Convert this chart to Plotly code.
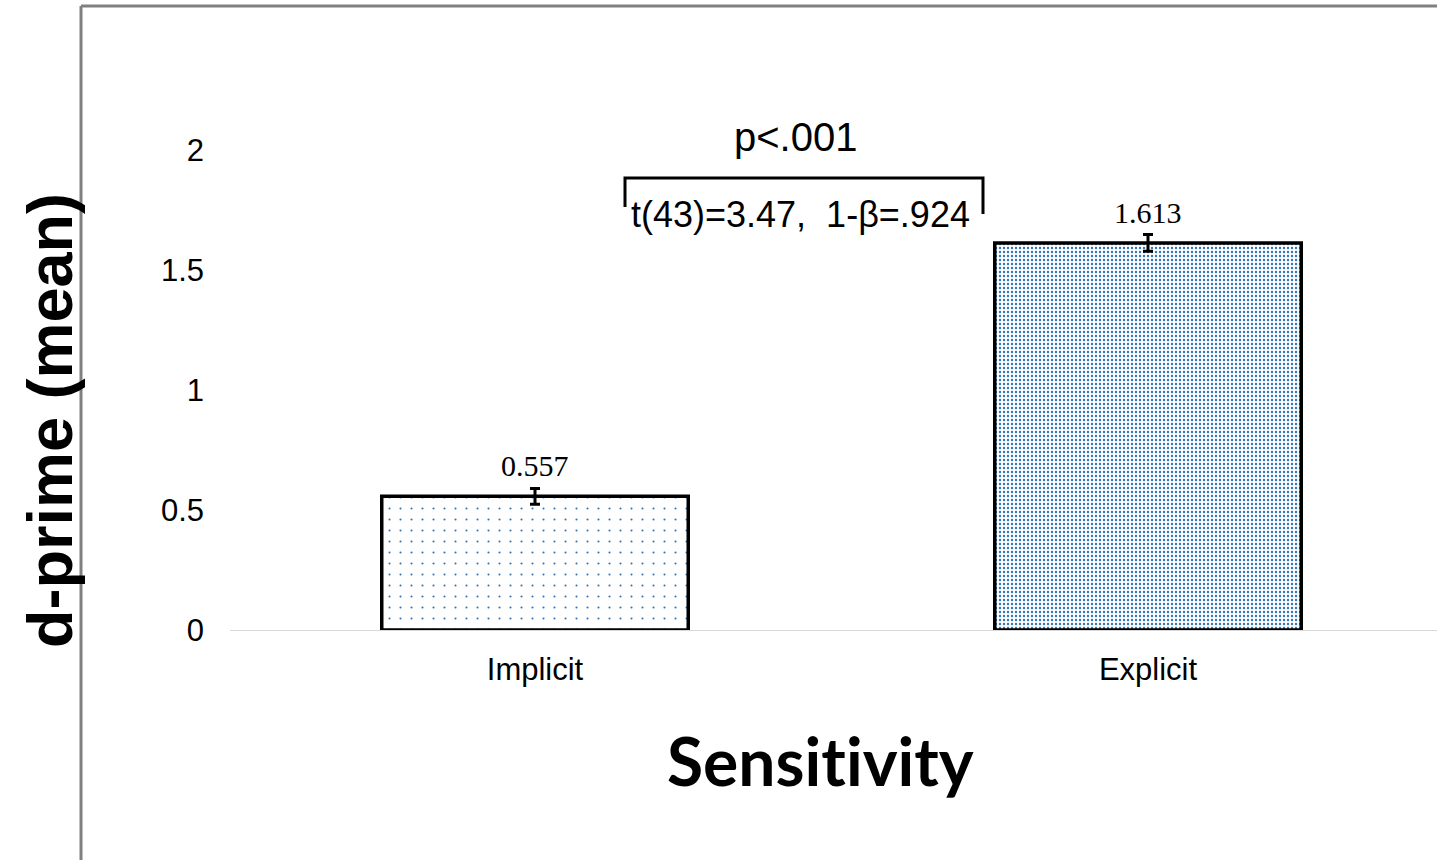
import plotly.graph_objects as go

# ---- data ----
categories = ["Implicit", "Explicit"]
means = [0.557, 1.613]
errors = [0.033, 0.035]
value_labels = ["0.557", "1.613"]
y_ticks = [0, 0.5, 1, 1.5, 2]
y_tick_labels = ["0", "0.5", "1", "1.5", "2"]
p_text = "p<.001"
stat_text = "t(43)=3.47,  1-β=.924"
x_title = "Sensit\u200civit\u200cy"
y_title = "d-prime (mean)"

W, H = 1437, 860
L, R, T, B = 230, 0, 30, 230
plot_w = W - L - R
plot_h = H - T - B

BLUE = "#2E75B6"

fig = go.Figure()
patterns = [
    dict(shape=".", size=11, solidity=0.03, fgcolor=BLUE, bgcolor="white", fillmode="replace"),
    dict(shape=".", size=4, solidity=0.28, fgcolor=BLUE, bgcolor="white", fillmode="replace"),
]
for i, cat in enumerate(categories):
    fig.add_trace(go.Bar(
        x=[cat], y=[means[i]], width=0.5,
        marker=dict(color="white", pattern=patterns[i], line=dict(color="black", width=3.5)),
        error_y=dict(type="data", array=[errors[i]], color="black", thickness=3, width=5),
        showlegend=False, hoverinfo="skip",
    ))

annotations = []
for i, cat in enumerate(categories):
    annotations.append(dict(
        x=cat, y=means[i], xref="x", yref="y", text=value_labels[i],
        showarrow=False, yanchor="bottom", yshift=12,
        font=dict(family="Liberation Serif, Times New Roman, serif", size=30, color="black"),
    ))

def px_x(px):
    return (px - L) / plot_w

def px_y(py):
    return (H - B - py) / plot_h

# significance text
annotations.append(dict(x=px_x(795), y=px_y(137), xref="paper", yref="paper", text=p_text,
                        showarrow=False, xanchor="center", yanchor="middle",
                        font=dict(family="Liberation Sans, Arial", size=40, color="black")))
annotations.append(dict(x=px_x(800), y=px_y(214), xref="paper", yref="paper", text=stat_text,
                        showarrow=False, xanchor="center", yanchor="middle",
                        font=dict(family="Liberation Sans, Arial", size=36, color="black")))
# axis titles
annotations.append(dict(x=px_x(820), y=px_y(760), xref="paper", yref="paper", text="<b>" + x_title + "</b>",
                        showarrow=False, xanchor="center", yanchor="middle",
                        font=dict(family="Lato, Carlito, Calibri, sans-serif", size=66, color="black")))
annotations.append(dict(x=px_x(50), y=px_y(420), xref="paper", yref="paper", text="<b>" + y_title + "</b>",
                        showarrow=False, xanchor="center", yanchor="middle", textangle=-90,
                        font=dict(family="Liberation Sans, Arial", size=63, color="black")))

shapes = [
    # outer frame (cropped)
    dict(type="line", xref="paper", yref="paper", x0=px_x(81), x1=px_x(81), y0=px_y(6), y1=px_y(900),
         line=dict(color="#808080", width=3)),
    dict(type="line", xref="paper", yref="paper", x0=px_x(81), x1=px_x(1500), y0=px_y(6), y1=px_y(6),
         line=dict(color="#808080", width=3)),
    # bracket
    dict(type="path", xref="paper", yref="paper",
         path=f"M {px_x(625)} {px_y(207)} L {px_x(625)} {px_y(178)} L {px_x(983)} {px_y(178)} L {px_x(983)} {px_y(214)}",
         line=dict(color="black", width=3)),
]

x_right = 0 + (W - 535) / 613.0
x_left = 0 - (535 - L) / 613.0

fig.update_layout(
    width=W, height=H,
    margin=dict(l=L, r=R, t=T, b=B, pad=0),
    paper_bgcolor="white", plot_bgcolor="white",
    annotations=annotations, shapes=shapes,
    bargap=0.5,
    xaxis=dict(range=[x_left, x_right], showline=True, linecolor="#D9D9D9", linewidth=1,
               showgrid=False, zeroline=False, ticks="", ticklabelstandoff=12,
               tickfont=dict(family="Liberation Sans, Arial", size=31, color="black")),
    yaxis=dict(range=[0, 2.5], tickvals=y_ticks, ticktext=y_tick_labels, showgrid=False,
               zeroline=False, showline=False, ticks="", ticklabelstandoff=25,
               tickfont=dict(family="Liberation Sans, Arial", size=31, color="black")),
)

fig.write_html("out.html")
